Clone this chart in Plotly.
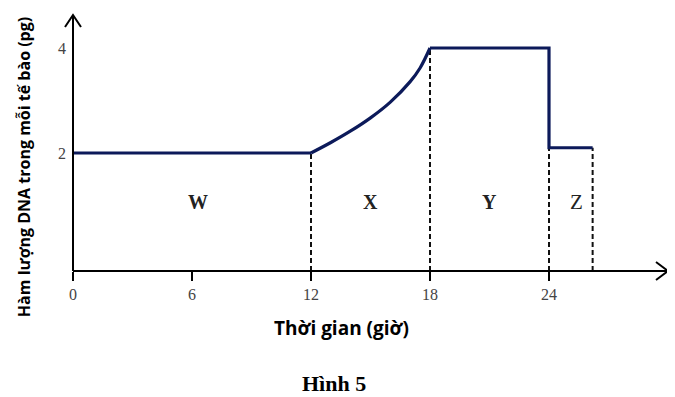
import plotly.graph_objects as go

# data
flat_x = [0, 12]
flat_y = [2, 2]
curve_x = [12, 13, 14, 15, 16, 17, 17.5, 18]
curve_y = [2, 2.2, 2.42, 2.67, 2.97, 3.36, 3.62, 4]
tail_x = [18, 24, 24, 26.2]
tail_y = [4, 4, 2.1, 2.1]
boundary_x = [12, 18, 24, 26.2]
boundary_top = [2, 4, 2.1, 2.1]
phase_labels = ["W", "X", "Y", "Z"]
phase_x = [6.3, 15, 21, 25.4]
phase_y = 1.07
x_ticks = [0, 6, 12, 18, 24]
y_ticks = [2, 4]

Y_MIN, Y_MAX = -0.248, 4.629
X_MIN, X_MAX = 0, 30

fig = go.Figure()

for bx, bt in zip(boundary_x, boundary_top):
    fig.add_trace(go.Scatter(x=[bx, bx], y=[Y_MIN, bt], mode="lines",
                             line=dict(color="#111", width=2, dash="5px,3px"),
                             hoverinfo="skip", showlegend=False))

LC = "#0c1a5a"
fig.add_trace(go.Scatter(x=flat_x, y=flat_y, mode="lines",
                         line=dict(color=LC, width=3.2), showlegend=False))
fig.add_trace(go.Scatter(x=curve_x, y=curve_y, mode="lines",
                         line=dict(color=LC, width=3.2, shape="spline", smoothing=1),
                         showlegend=False))
fig.add_trace(go.Scatter(x=tail_x, y=tail_y, mode="lines",
                         line=dict(color=LC, width=3.2), showlegend=False))

for lab, px in zip(phase_labels, phase_x):
    fig.add_annotation(x=px, y=phase_y, text=f"<b>{lab}</b>" if lab != "Z" else lab,
                       showarrow=False,
                       font=dict(family="Liberation Serif", size=20 if lab != "Z" else 21,
                                 color="#222"))

# axes lines and arrows
fig.add_shape(type="line", xref="paper", yref="paper", x0=0, x1=1, y0=0, y1=0,
              line=dict(color="black", width=2))
fig.add_shape(type="line", xref="paper", yref="paper", x0=0, x1=0, y0=0, y1=1,
              line=dict(color="black", width=2))
fig.add_shape(type="path", xref="paper", yref="paper", xsizemode="pixel", ysizemode="pixel",
              xanchor=1, yanchor=0, path="M -12,9 L 0,0 L -12,-9",
              line=dict(color="black", width=2))
fig.add_shape(type="path", xref="paper", yref="paper", xsizemode="pixel", ysizemode="pixel",
              xanchor=0, yanchor=1, path="M -8,-12 L 0,0 L 8,-12",
              line=dict(color="black", width=2))

fig.add_annotation(xref="paper", yref="paper", x=0.452, y=-0.223, yanchor="middle",
                   text="<b>Thời gian (giờ)</b>", showarrow=False,
                   font=dict(family="Open Sans", size=19, color="black"))
fig.add_annotation(xref="paper", yref="paper", x=-0.081, y=0.405, xanchor="center",
                   yanchor="middle",
                   text="<b>Hàm lượng DNA trong mỗi tế bào (pg)</b>", showarrow=False,
                   textangle=-90, font=dict(family="Open Sans", size=16, color="black"))
fig.add_annotation(xref="paper", yref="paper", x=0.438, y=-0.438, yanchor="middle",
                   text="<b>Hình 5</b>", showarrow=False,
                   font=dict(family="Liberation Serif", size=22, color="black"))

fig.update_xaxes(range=[X_MIN, X_MAX], tickvals=x_ticks, ticks="outside", ticklen=9,
                 tickwidth=2, tickcolor="black", showgrid=False, zeroline=False,
                 showline=False,
                 tickfont=dict(family="Liberation Serif", size=16, color="#444"))
fig.update_yaxes(range=[Y_MIN, Y_MAX], tickvals=y_ticks, ticks="", showgrid=False,
                 zeroline=False, showline=False, ticklabelstandoff=6,
                 tickfont=dict(family="Liberation Serif", size=16, color="#444"))

# page body has an 8px margin, so the figure is shrunk and shifted to compensate
fig.update_layout(width=667, height=389, margin=dict(l=65, r=7, t=7, b=126),
                  plot_bgcolor="white", paper_bgcolor="white")

fig.write_html("out.html")
